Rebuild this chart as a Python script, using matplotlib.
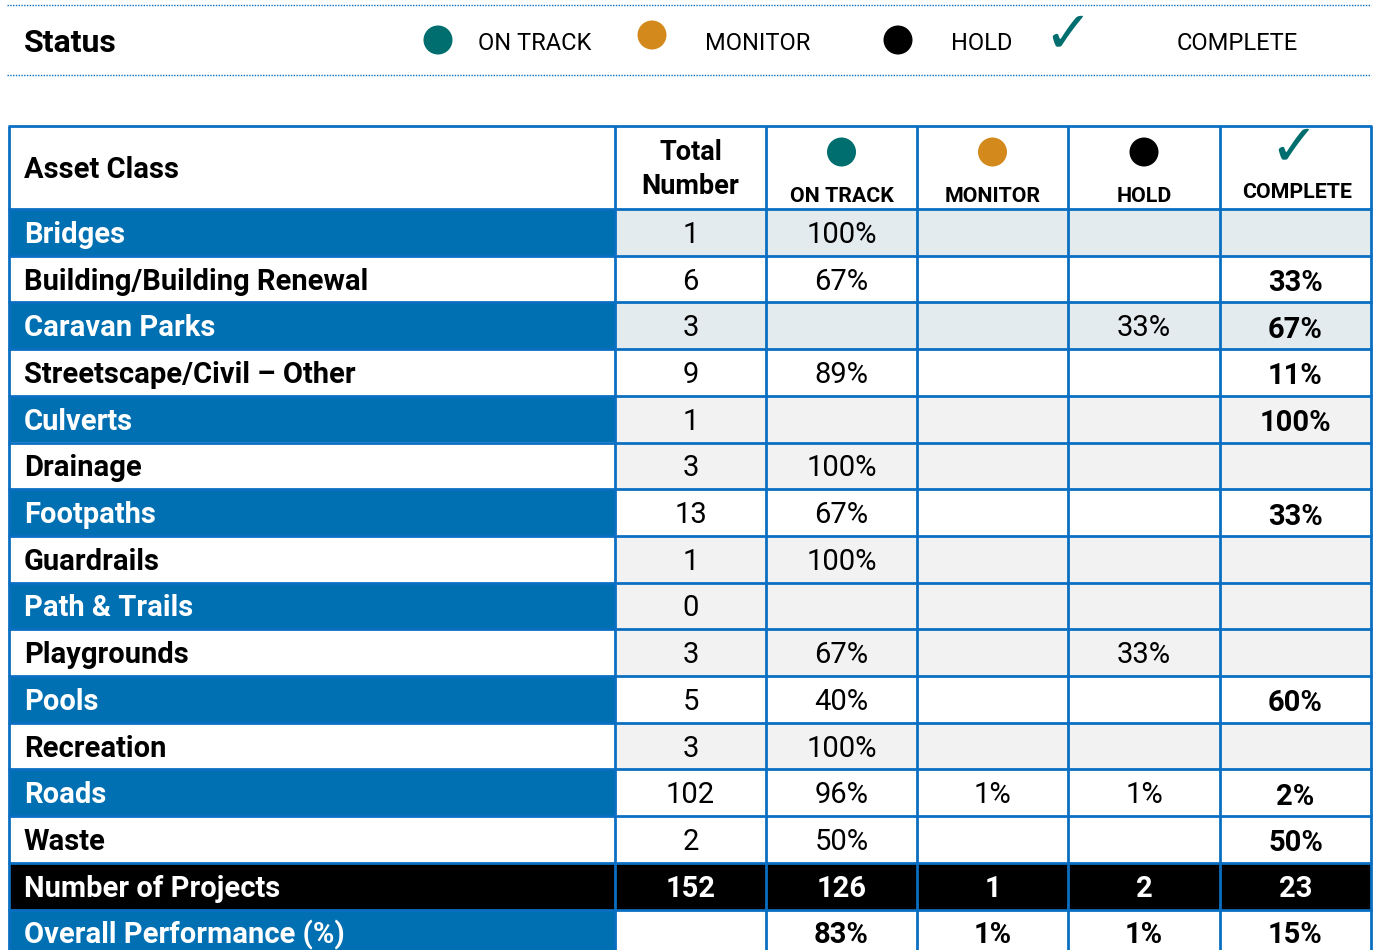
import matplotlib.pyplot as plt
from matplotlib.patches import Rectangle, Ellipse

plt.rcParams['font.family'] = ['Roboto', 'DejaVu Sans']

# data
asset_classes = ['Bridges', 'Building/Building Renewal', 'Caravan Parks',
                 'Streetscape/Civil \u2013 Other', 'Culverts', 'Drainage',
                 'Footpaths', 'Guardrails', 'Path & Trails', 'Playgrounds',
                 'Pools', 'Recreation', 'Roads', 'Waste']
total_number = ['1', '6', '3', '9', '1', '3', '13', '1', '0', '3', '5', '3', '102', '2']
on_track = ['100%', '67%', '', '89%', '', '100%', '67%', '100%', '', '67%', '40%', '100%', '96%', '50%']
monitor = ['', '', '', '', '', '', '', '', '', '', '', '', '1%', '']
hold = ['', '', '33%', '', '', '', '', '', '', '33%', '', '', '1%', '']
complete = ['', '33%', '67%', '11%', '100%', '', '33%', '', '', '', '60%', '', '2%', '50%']
projects_label = 'Number of Projects'
projects_counts = ['152', '126', '1', '2', '23']
overall_label = 'Overall Performance (%)'
overall_pct = ['', '83%', '1%', '1%', '15%']
status_names = ['ON TRACK', 'MONITOR', 'HOLD', 'COMPLETE']

# styles
BLUE = '#0070B3'
LINE = '#0A6FC2'
TEAL = '#006E6E'
ORANGE = '#D4891C'
LBLUE = '#E4EBEF'
LGRAY = '#F2F2F2'
data_bg = [LBLUE, 'white', LBLUE, 'white', LGRAY, LGRAY, 'white', LGRAY,
           LGRAY, LGRAY, 'white', LGRAY, 'white', 'white']

col_edges = [9, 615, 766, 917, 1068, 1220, 1371]
head_top, head_bot = 126, 209
row_h = 46.7

fig = plt.figure(figsize=(13.75, 9.5), dpi=100)
ax = fig.add_axes([0, 0, 1, 1])
ax.set_xlim(0, 1375)
ax.set_ylim(950, 0)
ax.axis('off')

FS = 21

# status legend bar
ax.plot([7, 1371], [5, 5], color=LINE, lw=1, ls=(0, (1, 1)))
ax.plot([7, 1371], [75, 75], color=LINE, lw=1, ls=(0, (1, 1)))
ax.text(24, 43, 'Status', fontsize=23, fontweight='bold', va='center', ha='left')


def status_icon(x, y, kind, d):
    if kind == 3:
        ax.text(x, y, '\u2713', fontsize=d * 1.45, color=TEAL, ha='center',
                va='center', family='DejaVu Sans')
    else:
        c = [TEAL, ORANGE, 'black'][kind]
        ax.add_patch(Ellipse((x, y), d, d, color=c, lw=0))


legend_icon_x = [438, 652, 898, 1068]
legend_icon_y = [40, 35, 40, 35]
legend_text_x = [478, 705, 951, 1177]
for k, name in enumerate(status_names):
    status_icon(legend_icon_x[k], legend_icon_y[k], k, 29)
    ax.text(legend_text_x[k], 43, name, fontsize=17, va='center', ha='left')

# header row
ax.add_patch(Rectangle((col_edges[0], head_top), col_edges[-1] - col_edges[0],
                       head_bot - head_top, facecolor='white', lw=0))
ax.text(24, (head_top + head_bot) / 2 + 3, 'Asset Class', fontsize=FS,
        fontweight='bold', va='center', ha='left')
cx = [(col_edges[i] + col_edges[i + 1]) / 2 for i in range(len(col_edges) - 1)]
ax.text(cx[1], 153, 'Total', fontsize=19.5, fontweight='bold', ha='center', va='center')
ax.text(cx[1], 187, 'Number', fontsize=19.5, fontweight='bold', ha='center', va='center')
for k, name in enumerate(status_names):
    x = cx[k + 2]
    if k == 3:
        status_icon(x - 2, 148, k, 29)
        ax.text(x + 2, 193, name, fontsize=15.4, fontweight='bold', ha='center', va='center')
    else:
        status_icon(x, 152, k, 29)
        ax.text(x, 196, name, fontsize=15.4, fontweight='bold', ha='center', va='center')

# body rows
rows = []
for i, name in enumerate(asset_classes):
    rows.append((name, [total_number[i], on_track[i], monitor[i], hold[i], complete[i]],
                 BLUE if i % 2 == 0 else 'white', data_bg[i],
                 'white' if i % 2 == 0 else 'black'))
rows.append((projects_label, projects_counts, 'black', 'black', 'white'))
rows.append((overall_label, overall_pct, BLUE, 'white', 'white'))

n_asset = len(asset_classes)
for r, (name, vals, lbg, dbg, lcol) in enumerate(rows):
    y0 = head_bot + r * row_h
    ym = y0 + row_h / 2
    ax.add_patch(Rectangle((col_edges[0], y0), col_edges[1] - col_edges[0], row_h,
                           facecolor=lbg, lw=0))
    ax.add_patch(Rectangle((col_edges[1], y0), col_edges[-1] - col_edges[1], row_h,
                           facecolor=dbg, lw=0))
    ax.text(24, ym + 2.5, name, fontsize=FS, fontweight='bold', color=lcol,
            va='center', ha='left')
    for j, v in enumerate(vals):
        dy = 2.5
        if r < n_asset:
            bold = j == 4
            col = 'black'
            if bold:
                dy = 4
        elif r == n_asset:
            bold, col = True, 'white'
        else:
            bold, col = True, 'black'
        ax.text(cx[j + 1], ym + dy, v, fontsize=FS, color=col,
                fontweight='bold' if bold else 'normal', ha='center', va='center')

# grid lines
bottom = head_bot + len(rows) * row_h
for x in col_edges:
    ax.plot([x, x], [head_top, bottom], color=LINE, lw=2, solid_capstyle='butt')
ys = [head_top, head_bot] + [head_bot + (r + 1) * row_h for r in range(len(rows))]
for y in ys:
    ax.plot([col_edges[0] - 1, col_edges[-1] + 1], [y, y], color=LINE, lw=2,
            solid_capstyle='butt')

fig.savefig('out.png', dpi=100)
